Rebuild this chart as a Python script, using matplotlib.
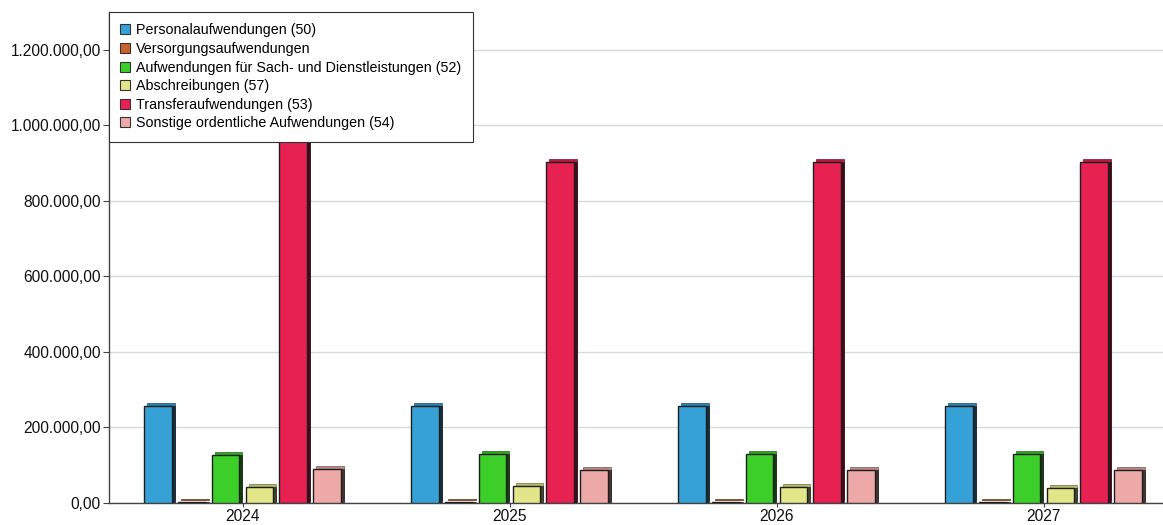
import numpy as np
import matplotlib
matplotlib.use("Agg")
import matplotlib.pyplot as plt
from matplotlib.patches import Patch
from matplotlib.ticker import FuncFormatter, MultipleLocator
from matplotlib.transforms import offset_copy
from matplotlib.colors import to_rgb

plt.rcParams['font.family'] = ['Liberation Sans', 'DejaVu Sans']

years = ["2024", "2025", "2026", "2027"]
series_names = [
    "Personalaufwendungen (50)",
    "Versorgungsaufwendungen",
    "Aufwendungen für Sach- und Dienstleistungen (52)",
    "Abschreibungen (57)",
    "Transferaufwendungen (53)",
    "Sonstige ordentliche Aufwendungen (54)",
]
personal = [257000, 256500, 257500, 257500]
versorgung = [3000, 3000, 3000, 3000]
sachdienst = [127000, 129000, 129000, 129000]
abschreibung = [41500, 44000, 42000, 41000]
transfer = [1010000, 903000, 903000, 903000]
sonstige = [90000, 87000, 87500, 87500]
series_values = [personal, versorgung, sachdienst, abschreibung, transfer, sonstige]
colors = ["#35a1d7", "#c9632e", "#3ccf2a", "#e2e688", "#e72152", "#eca9a8"]

W, H, DPI = 11.63, 5.25, 100
fig = plt.figure(figsize=(W, H), dpi=DPI)
left_px, right_px, bottom_px, top_px = 109, 1177, 503, 12
ax = fig.add_axes([left_px / 1163, (525 - bottom_px) / 525,
                   (right_px - left_px) / 1163, (bottom_px - top_px) / 525])

ax.set_xlim(-0.5, len(years) - 0.5)
ax.set_ylim(0, 1300000)

x = np.arange(len(years))
step = 0.127
width = 0.104
depth = 3  # pixels of pseudo-3D depth

top_tr = offset_copy(ax.transData, fig=fig, x=depth, y=depth, units='dots')
side_tr = offset_copy(ax.transData, fig=fig, x=depth, y=0, units='dots')

for i, (vals, col) in enumerate(zip(series_values, colors)):
    xi = x + (i - 2.5) * step
    rgb = np.array(to_rgb(col))
    top_col = rgb * 0.8
    side_col = rgb * 0.3
    ax.bar(xi, vals, width, color=top_col, edgecolor=rgb * 0.5, linewidth=0.5,
           transform=top_tr, zorder=2)
    ax.bar(xi, vals, width, color=side_col, edgecolor="#222222", linewidth=0.5,
           transform=side_tr, zorder=2.5)
    ax.bar(xi, vals, width, color=col, edgecolor="#1e1e1e", linewidth=1.0,
           zorder=3)

# axes styling
ax.yaxis.set_major_locator(MultipleLocator(200000))


def de_fmt(v, pos):
    s = f"{v:,.2f}"
    return s.replace(",", "X").replace(".", ",").replace("X", ".")


ax.yaxis.set_major_formatter(FuncFormatter(de_fmt))
ax.set_xticks(x)
ax.set_xticklabels(years)
ax.tick_params(axis='y', labelsize=11.2, length=4, width=0.8, color="#444444",
               labelcolor="#111111", pad=2)
ax.tick_params(axis='x', labelsize=11.2, length=3, width=0.8, color="#444444",
               labelcolor="#111111", pad=1)
ax.grid(axis='y', color="#d8d8d8", linewidth=1.0, zorder=0)
ax.set_axisbelow(True)
for s in ("top", "right"):
    ax.spines[s].set_visible(False)
for s in ("left", "bottom"):
    ax.spines[s].set_color("#444444")
    ax.spines[s].set_linewidth(1.0)

handles = [Patch(facecolor=c, edgecolor="#333333", linewidth=0.8) for c in colors]
leg = ax.legend(handles, series_names, loc="upper left", bbox_to_anchor=(0, 1),
                fontsize=10.3, frameon=True, fancybox=False, framealpha=1,
                edgecolor="#333333", handlelength=0.7, handleheight=0.7,
                handletextpad=0.4, labelspacing=0.32, borderpad=0.8,
                borderaxespad=0)
leg.get_frame().set_linewidth(0.8)
leg.set_zorder(10)

fig.savefig("out.png", dpi=DPI)
